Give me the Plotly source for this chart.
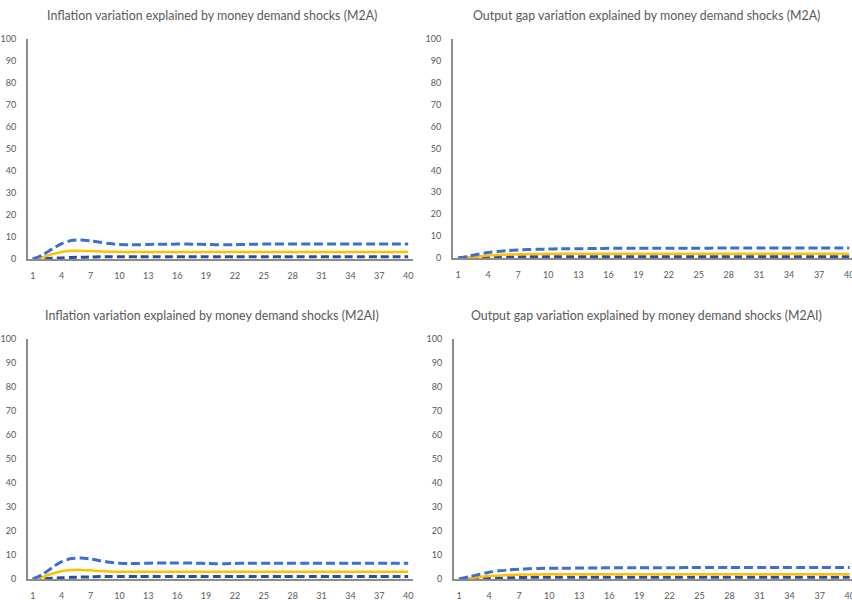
import plotly.graph_objects as go

periods = list(range(1, 41))

# Inflation, M2A
infl_m2a_upper = [0, 1.8, 4.5, 7.0, 8.4, 8.6, 8.2, 7.6, 7.0, 6.6, 6.5, 6.5, 6.6, 6.7, 6.7, 6.8, 6.8, 6.7, 6.6, 6.5,
                  6.5, 6.5, 6.6, 6.7, 6.8, 6.8, 6.8, 6.8, 6.8, 6.8, 6.8, 6.8, 6.8, 6.8, 6.8, 6.8, 6.8, 6.8, 6.8, 6.8]
infl_m2a_mid = [0, 0.8, 2.2, 3.2, 3.7, 3.8, 3.6, 3.4, 3.3, 3.2, 3.2, 3.2, 3.2, 3.2, 3.2, 3.2, 3.2, 3.2, 3.2, 3.2,
                3.2, 3.2, 3.2, 3.2, 3.2, 3.2, 3.2, 3.2, 3.2, 3.2, 3.2, 3.2, 3.2, 3.2, 3.2, 3.2, 3.2, 3.2, 3.2, 3.2]
infl_m2a_low = [0, 0.1, 0.3, 0.5, 0.7, 0.8, 0.9, 1.0, 1.0, 1.0, 1.0, 1.0, 1.0, 1.0, 1.0, 1.0, 1.0, 1.0, 1.0, 1.0,
                1.0, 1.0, 1.0, 1.0, 1.0, 1.0, 1.0, 1.0, 1.0, 1.0, 1.0, 1.0, 1.0, 1.0, 1.0, 1.0, 1.0, 1.0, 1.0, 1.0]

# Output gap, M2A
gap_m2a_upper = [0, 0.8, 1.7, 2.5, 3.0, 3.4, 3.7, 3.9, 4.0, 4.1, 4.2, 4.2, 4.2, 4.3, 4.3, 4.4, 4.4, 4.4, 4.4, 4.4,
                 4.4, 4.4, 4.4, 4.5, 4.5, 4.5, 4.6, 4.6, 4.6, 4.6, 4.6, 4.6, 4.6, 4.6, 4.6, 4.6, 4.6, 4.6, 4.6, 4.6]
gap_m2a_mid = [0, 0.3, 0.7, 1.1, 1.4, 1.6, 1.7, 1.8, 1.8, 1.9, 1.9, 1.9, 1.9, 1.9, 1.9, 1.9, 1.9, 1.9, 1.9, 1.9,
               1.9, 1.9, 1.9, 1.9, 1.9, 1.9, 1.9, 1.9, 1.9, 1.9, 1.9, 1.9, 1.9, 1.9, 1.9, 1.9, 1.9, 1.9, 1.9, 1.9]
gap_m2a_low = [0, 0.1, 0.2, 0.3, 0.4, 0.5, 0.5, 0.6, 0.6, 0.6, 0.6, 0.6, 0.6, 0.6, 0.6, 0.6, 0.6, 0.6, 0.6, 0.6,
               0.6, 0.6, 0.6, 0.6, 0.6, 0.6, 0.6, 0.6, 0.6, 0.6, 0.6, 0.6, 0.6, 0.6, 0.6, 0.6, 0.6, 0.6, 0.6, 0.6]

# Inflation, M2AI
infl_m2ai_upper = [0, 1.9, 4.7, 7.2, 8.5, 8.7, 8.3, 7.6, 7.0, 6.6, 6.5, 6.5, 6.6, 6.7, 6.7, 6.7, 6.7, 6.6, 6.5, 6.4,
                   6.4, 6.5, 6.6, 6.6, 6.6, 6.6, 6.6, 6.6, 6.6, 6.6, 6.6, 6.6, 6.6, 6.6, 6.6, 6.6, 6.6, 6.6, 6.6, 6.6]
infl_m2ai_mid = [0, 0.8, 2.2, 3.2, 3.7, 3.8, 3.6, 3.3, 3.1, 3.0, 3.0, 3.0, 3.0, 3.0, 3.0, 3.0, 3.0, 3.0, 3.0, 3.0,
                 3.0, 3.0, 3.0, 3.0, 3.0, 3.0, 3.0, 3.0, 3.0, 3.0, 3.0, 3.0, 3.0, 3.0, 3.0, 3.0, 3.0, 3.0, 3.0, 3.0]
infl_m2ai_low = [0, 0.1, 0.3, 0.5, 0.7, 0.8, 0.9, 1.0, 1.0, 1.0, 1.0, 1.0, 1.0, 1.0, 1.0, 1.0, 1.0, 1.0, 1.0, 1.0,
                 1.0, 1.0, 1.0, 1.0, 1.0, 1.0, 1.0, 1.0, 1.0, 1.0, 1.0, 1.0, 1.0, 1.0, 1.0, 1.0, 1.0, 1.0, 1.0, 1.0]

# Output gap, M2AI
gap_m2ai_upper = [0, 0.9, 1.9, 2.8, 3.4, 3.8, 4.1, 4.3, 4.4, 4.5, 4.5, 4.5, 4.6, 4.6, 4.6, 4.7, 4.7, 4.7, 4.7, 4.7,
                  4.7, 4.7, 4.7, 4.8, 4.8, 4.8, 4.8, 4.8, 4.8, 4.8, 4.8, 4.8, 4.8, 4.8, 4.8, 4.8, 4.8, 4.8, 4.8, 4.8]
gap_m2ai_mid = [0, 0.3, 0.8, 1.2, 1.5, 1.7, 1.8, 1.9, 1.9, 2.0, 2.0, 2.0, 2.0, 2.0, 2.0, 2.0, 2.0, 2.0, 2.0, 2.0,
                2.0, 2.0, 2.0, 2.0, 2.0, 2.0, 2.0, 2.0, 2.0, 2.0, 2.0, 2.0, 2.0, 2.0, 2.0, 2.0, 2.0, 2.0, 2.0, 2.0]
gap_m2ai_low = [0, 0.1, 0.2, 0.3, 0.4, 0.5, 0.6, 0.7, 0.7, 0.7, 0.7, 0.7, 0.7, 0.7, 0.7, 0.7, 0.7, 0.7, 0.7, 0.7,
                0.7, 0.7, 0.7, 0.7, 0.7, 0.7, 0.7, 0.7, 0.7, 0.7, 0.7, 0.7, 0.7, 0.7, 0.7, 0.7, 0.7, 0.7, 0.7, 0.7]

titles = [
    "Inflation variation explained by money demand shocks (M2A)",
    "Output gap variation explained by money demand shocks (M2A)",
    "Inflation variation explained by money demand shocks (M2AI)",
    "Output gap variation explained by money demand shocks (M2AI)",
]
x_ticks = list(range(1, 41, 3))
y_ticks = list(range(0, 101, 10))

panels = [
    (infl_m2a_upper, infl_m2a_mid, infl_m2a_low),
    (gap_m2a_upper, gap_m2a_mid, gap_m2a_low),
    (infl_m2ai_upper, infl_m2ai_mid, infl_m2ai_low),
    (gap_m2ai_upper, gap_m2ai_mid, gap_m2ai_low),
]

W, H = 852, 600
# pixel layout of plot areas: (left, right, top, bottom)
boxes = [
    (28, 413, 39, 259),
    (453, 852, 39, 258),
    (28, 413, 339, 579),
    (454, 852, 339, 579),
]
x_ranges = [[0.5, 40.5], [0.5, 40.28], [0.5, 40.5], [0.5, 40.23]]

UPPER = "#3d6fd2"
MID = "#ffc000"
LOW = "#284f9e"
GREY = "#595959"
FONT = "Lato"

fig = go.Figure()
layout = dict(
    width=W, height=H, margin=dict(l=0, r=0, t=0, b=0, autoexpand=False),
    paper_bgcolor="white", plot_bgcolor="white", showlegend=False,
    font=dict(family=FONT, color=GREY),
)
annotations = []
for i, (series, box, title, xr) in enumerate(zip(panels, boxes, titles, x_ranges)):
    n = "" if i == 0 else str(i + 1)
    l, r, t, b = box
    up, mid, low = series
    for vals, color, dash, w in [(low, LOW, "8px,4px", 3), (mid, MID, "solid", 2.5), (up, UPPER, "9px,4px", 3)]:
        fig.add_trace(go.Scatter(
            x=periods, y=vals, mode="lines",
            line=dict(color=color, width=w, dash=dash, shape="spline", smoothing=0.8),
            xaxis="x" + n, yaxis="y" + n, hoverinfo="skip", cliponaxis=False,
        ))
    layout["xaxis" + n] = dict(
        domain=[l / W, r / W], anchor="y" + n, range=xr, automargin=False,
        tickvals=x_ticks, ticktext=[str(v) for v in x_ticks], ticklabeloverflow="allow",
        showgrid=False, zeroline=False, showline=True, linecolor="#8c8c8c", linewidth=1.5,
        ticks="", ticklabelstandoff=7, tickfont=dict(size=9, color=GREY, family=FONT),
    )
    layout["yaxis" + n] = dict(
        domain=[1 - b / H, 1 - t / H], anchor="x" + n, range=[0, 100], automargin=False,
        tickvals=y_ticks, showgrid=False, zeroline=False, showline=True,
        linecolor="#8c8c8c", linewidth=2, ticks="", ticklabelstandoff=8,
        tickfont=dict(size=9, color=GREY, family=FONT),
    )
    cx = [212, 646, 212, 646][i]
    cy = [15, 15, 316, 316][i]
    annotations.append(dict(
        text=title, x=cx / W, y=1 - cy / H, xref="paper", yref="paper",
        xanchor="center", yanchor="middle", showarrow=False,
        font=dict(size=12.4, color=GREY, family=FONT),
    ))
layout["annotations"] = annotations
fig.update_layout(**layout)
fig.write_html(
    "out.html",
    config={"displayModeBar": False},
    post_script="document.body.style.margin='0';document.body.style.overflow='hidden';",
)
